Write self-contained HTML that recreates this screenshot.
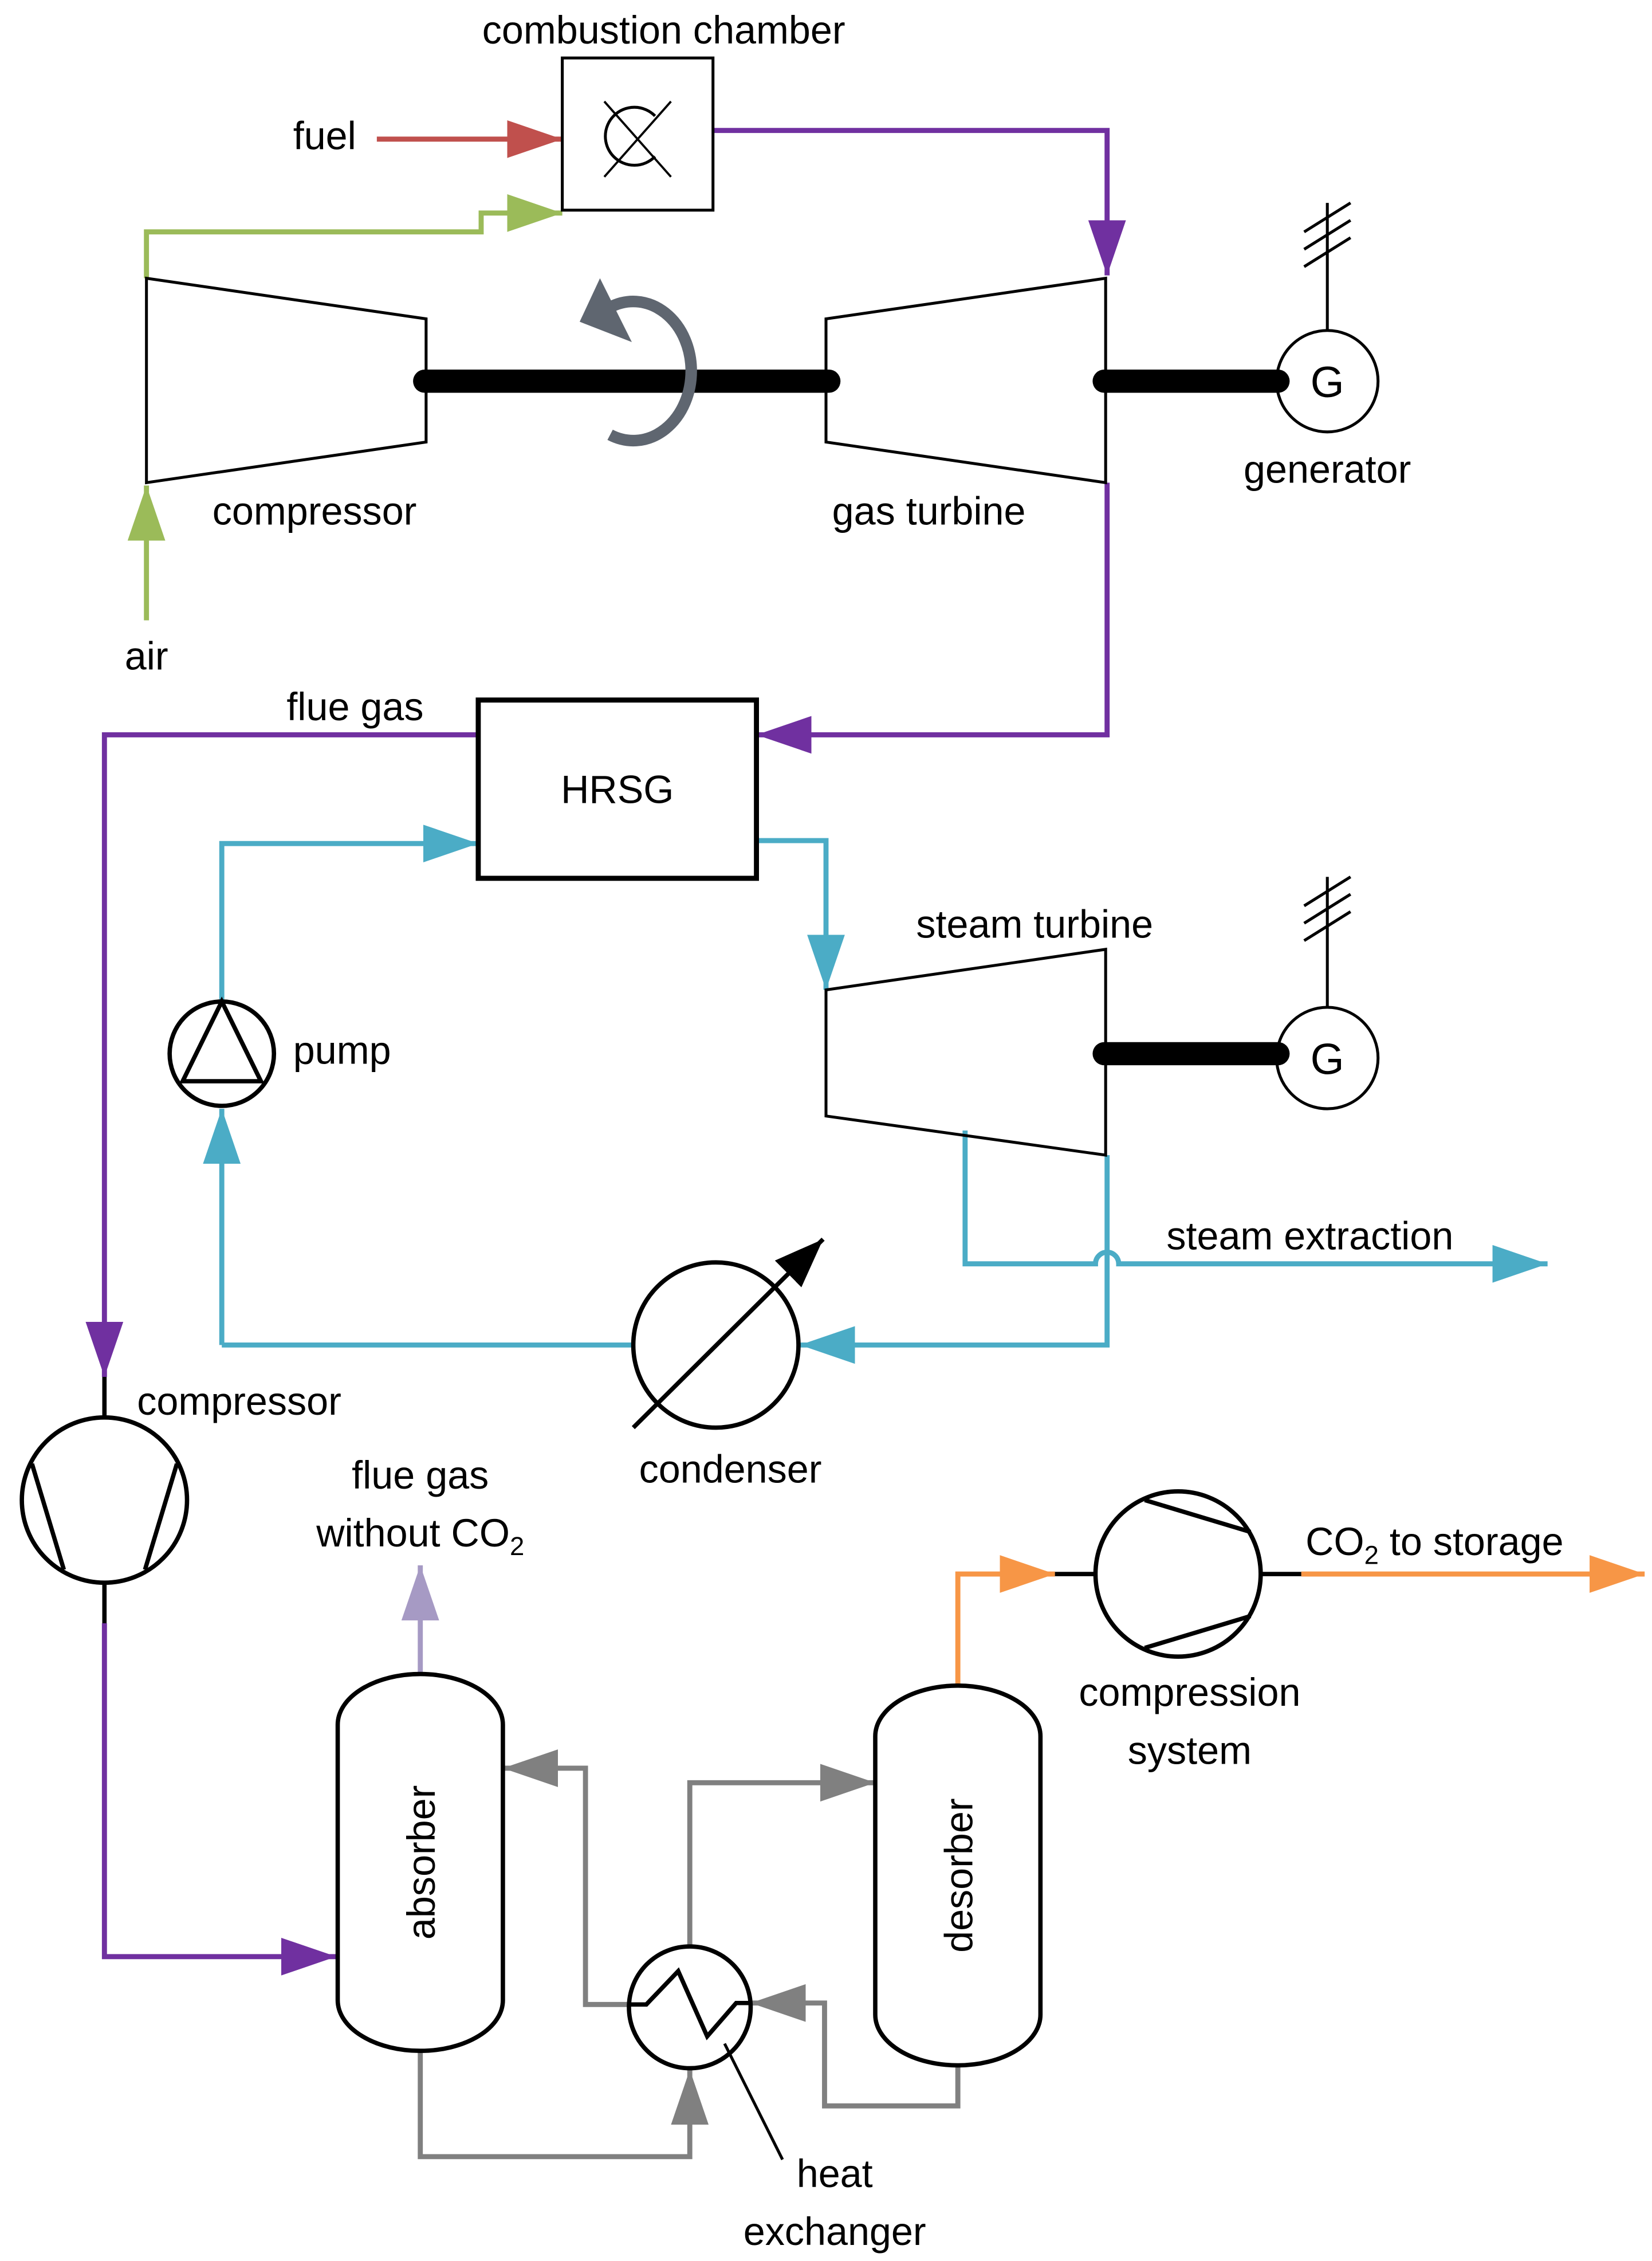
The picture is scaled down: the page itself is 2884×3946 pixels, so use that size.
<!DOCTYPE html>
<html><head><meta charset="utf-8"><style>html,body{margin:0;padding:0;background:#fff}svg{display:block}</style></head><body>
<svg width="2884" height="3946" viewBox="0 0 1140 1560" xmlns="http://www.w3.org/2000/svg" font-family="Liberation Sans, sans-serif" font-size="27">
<defs>
<marker id="r" markerUnits="userSpaceOnUse" markerWidth="40" markerHeight="30" refX="38" refY="13" orient="auto"><path d="M0,0 L38,13 L0,26 z" fill="#c0504d"/></marker>
<marker id="g" markerUnits="userSpaceOnUse" markerWidth="40" markerHeight="30" refX="38" refY="13" orient="auto"><path d="M0,0 L38,13 L0,26 z" fill="#9bbb59"/></marker>
<marker id="p" markerUnits="userSpaceOnUse" markerWidth="40" markerHeight="30" refX="38" refY="13" orient="auto"><path d="M0,0 L38,13 L0,26 z" fill="#7030a0"/></marker>
<marker id="b" markerUnits="userSpaceOnUse" markerWidth="40" markerHeight="30" refX="38" refY="13" orient="auto"><path d="M0,0 L38,13 L0,26 z" fill="#4bacc6"/></marker>
<marker id="gr" markerUnits="userSpaceOnUse" markerWidth="40" markerHeight="30" refX="38" refY="13" orient="auto"><path d="M0,0 L38,13 L0,26 z" fill="#808080"/></marker>
<marker id="o" markerUnits="userSpaceOnUse" markerWidth="40" markerHeight="30" refX="38" refY="13" orient="auto"><path d="M0,0 L38,13 L0,26 z" fill="#f79646"/></marker>
<marker id="l" markerUnits="userSpaceOnUse" markerWidth="40" markerHeight="30" refX="38" refY="13" orient="auto"><path d="M0,0 L38,13 L0,26 z" fill="#a69ac4"/></marker>
<marker id="k" markerUnits="userSpaceOnUse" markerWidth="40" markerHeight="30" refX="34" refY="13" orient="auto"><path d="M0,0 L34,13 L0,26 z" fill="#000"/></marker>
<marker id="sg" markerUnits="userSpaceOnUse" markerWidth="40" markerHeight="40" refX="20" refY="20" orient="auto"><path d="M4,4 L36,20 L4,36 z" fill="#5f6670"/></marker>
</defs>
<g fill="none" stroke-width="3.5">
<!-- fuel / air -->
<path d="M260,96 H388" stroke="#c0504d" marker-end="url(#r)"/>
<path d="M101,192 V160 H332 V147 H388" stroke="#9bbb59" marker-end="url(#g)"/>
<path d="M101,428 V335" stroke="#9bbb59" marker-end="url(#g)"/>
<!-- purple -->
<path d="M492,90 H764 V190" stroke="#7030a0" marker-end="url(#p)"/>
<path d="M764,333 V507 H522" stroke="#7030a0" marker-end="url(#p)"/>
<path d="M330,507 H72 V950" stroke="#7030a0" marker-end="url(#p)"/>
<path d="M72,1120 V1350 H232" stroke="#7030a0" marker-end="url(#p)"/>
<!-- blue -->
<path d="M153,690 V582 H330" stroke="#4bacc6" marker-end="url(#b)"/>
<path d="M522,580 H570 V683" stroke="#4bacc6" marker-end="url(#b)"/>
<path d="M153,928 V765" stroke="#4bacc6" marker-end="url(#b)"/>
<path d="M153,928 H438" stroke="#4bacc6"/>
<path d="M764,797 V928 H552" stroke="#4bacc6" marker-end="url(#b)"/>
<path d="M666,780 V872 H756 A8,8 0 0 1 772,872 H1068" stroke="#4bacc6" marker-end="url(#b)"/>
<!-- grey -->
<path d="M290,1415 V1488 H476 V1428" stroke="#808080" marker-end="url(#gr)"/>
<path d="M476,1343 V1230 H604" stroke="#808080" marker-end="url(#gr)"/>
<path d="M661,1425 V1453 H569 V1382 H518" stroke="#808080" marker-end="url(#gr)"/>
<path d="M434,1383 H404 V1220 H347" stroke="#808080" marker-end="url(#gr)"/>
<!-- lavender / orange -->
<path d="M290,1155 V1080" stroke="#a69ac4" marker-end="url(#l)"/>
<path d="M661,1163 V1086 H728" stroke="#f79646" marker-end="url(#o)"/>
<path d="M898,1086 H1135" stroke="#f79646" marker-end="url(#o)"/>
</g>
<g fill="none" stroke="#000" stroke-width="2">
<rect x="388" y="40" width="104" height="105" fill="#fff"/>
<path d="M452,80 A20,20 0 1 0 452,108"/>
<path d="M417,122 L463,70 M417,70 L463,122" stroke-width="1.5"/>
<path d="M101,192 L294,220 V305 L101,333 Z"/>
<path d="M570,220 L763,192 V333 L570,305 Z"/>
<path d="M570,683 L763,655 V797 L570,770 Z"/>
<circle cx="916" cy="263" r="35"/>
<circle cx="916" cy="730" r="35"/>
<path d="M916,228 V140 M900,160 L932,140 M900,172 L932,152 M900,184 L932,164"/>
<path d="M916,695 V605 M900,625 L932,605 M900,637 L932,617 M900,649 L932,629"/>
<rect x="330" y="483" width="192" height="123" stroke-width="3.5"/>
<circle cx="153" cy="727" r="36" stroke-width="3"/>
<path d="M153,691 L126,746 H180 Z" stroke-width="3"/>
<circle cx="494" cy="928" r="57" stroke-width="3"/>
<path d="M437,985 L568,855" stroke-width="3" marker-end="url(#k)"/>
<circle cx="72" cy="1035" r="57" stroke-width="3"/>
<path d="M22,1010 L44,1083 M122,1010 L100,1083" stroke-width="3"/>
<path d="M72,950 V978 M72,1092 V1120" stroke-width="3"/>
<path d="M233,1190 A57,35 0 0 1 347,1190 V1380 A57,35 0 0 1 233,1380 Z" stroke-width="3"/>
<path d="M604,1198 A57,35 0 0 1 718,1198 V1390 A57,35 0 0 1 604,1390 Z" stroke-width="3"/>
<circle cx="476" cy="1385" r="42" stroke-width="3"/>
<path d="M434,1383 H446 L468,1360 L488,1405 L508,1382 H518" stroke-width="3"/>
<path d="M500,1410 L540,1490" stroke-width="2"/>
<circle cx="813" cy="1086" r="57" stroke-width="3"/>
<path d="M790,1035 L863,1057 M790,1137 L863,1115" stroke-width="3"/>
<path d="M728,1086 H756 M870,1086 H898" stroke-width="3"/>
</g>
<g stroke="#000" stroke-width="16" stroke-linecap="round">
<path d="M293,263 H572"/>
<path d="M762,263 H882"/>
<path d="M762,727 H882"/>
</g>
<path d="M421,212 A40,48 0 1 1 421,300" fill="none" stroke="#5f6670" stroke-width="8"/>
<path d="M400,222 L414,192 L436,236 Z" fill="#5f6670"/>
<g fill="#000">
<text x="458" y="30" text-anchor="middle">combustion chamber</text>
<text x="224" y="103" text-anchor="middle">fuel</text>
<text x="916" y="274" text-anchor="middle" font-size="30">G</text>
<text x="916" y="741" text-anchor="middle" font-size="30">G</text>
<text x="916" y="333" text-anchor="middle">generator</text>
<text x="217" y="362" text-anchor="middle">compressor</text>
<text x="641" y="362" text-anchor="middle">gas turbine</text>
<text x="101" y="462" text-anchor="middle">air</text>
<text x="245" y="497" text-anchor="middle">flue gas</text>
<text x="426" y="554" text-anchor="middle">HRSG</text>
<text x="714" y="647" text-anchor="middle">steam turbine</text>
<text x="236" y="734" text-anchor="middle">pump</text>
<text x="904" y="862" text-anchor="middle">steam extraction</text>
<text x="165" y="976" text-anchor="middle">compressor</text>
<text x="504" y="1023" text-anchor="middle">condenser</text>
<text x="290" y="1027" text-anchor="middle">flue gas</text>
<text x="290" y="1067" text-anchor="middle">without CO<tspan font-size="18" dy="6">2</tspan></text>
<text x="990" y="1073" text-anchor="middle">CO<tspan font-size="18" dy="6">2</tspan><tspan dy="-6"> to storage</tspan></text>
<text x="821" y="1177" text-anchor="middle">compression</text>
<text x="821" y="1217" text-anchor="middle">system</text>
<text x="576" y="1509" text-anchor="middle">heat</text>
<text x="576" y="1549" text-anchor="middle">exchanger</text>
<text transform="translate(300,1285) rotate(-90)" text-anchor="middle">absorber</text>
<text transform="translate(671,1294) rotate(-90)" text-anchor="middle">desorber</text>
</g>
</svg>
</body></html>
